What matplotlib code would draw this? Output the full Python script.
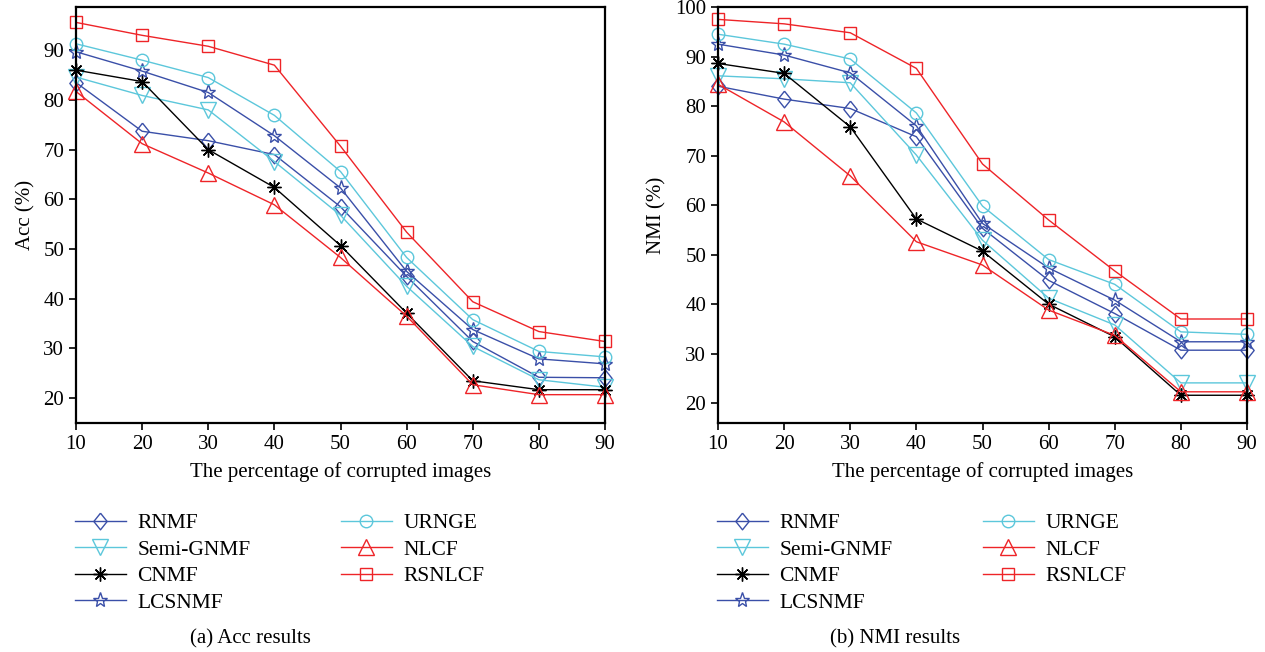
import numpy as np
import matplotlib.pyplot as plt
from matplotlib.lines import Line2D

plt.rcParams['font.family'] = ['Liberation Serif', 'DejaVu Serif']

x = [10, 20, 30, 40, 50, 60, 70, 80, 90]
methods = ['RNMF', 'Semi-GNMF', 'CNMF', 'LCSNMF', 'URNGE', 'NLCF', 'RSNLCF']

# Acc (%)
acc_rnmf = [83.5, 73.7, 71.8, 69.0, 58.5, 44.5, 31.4, 24.2, 24.1]
acc_semi = [84.6, 80.9, 78.0, 67.6, 56.8, 42.5, 30.4, 23.7, 22.2]
acc_cnmf = [86.0, 83.7, 70.0, 62.4, 50.7, 37.1, 23.5, 21.7, 21.7]
acc_lcsnmf = [89.7, 85.8, 81.5, 72.8, 62.3, 45.5, 33.8, 27.9, 26.9]
acc_urnge = [91.3, 88.0, 84.5, 76.9, 65.6, 48.3, 35.8, 29.4, 28.3]
acc_nlcf = [81.7, 71.2, 65.3, 58.9, 48.3, 36.5, 22.7, 20.7, 20.7]
acc_rsnlcf = [95.6, 93.0, 90.8, 87.0, 70.7, 53.4, 39.4, 33.4, 31.4]

# NMI (%)
nmi_rnmf = [84.0, 81.4, 79.5, 73.8, 55.3, 44.8, 38.1, 30.7, 30.7]
nmi_semi = [86.1, 85.5, 84.7, 70.1, 52.9, 41.2, 35.8, 24.1, 24.1]
nmi_cnmf = [88.6, 86.6, 75.8, 57.2, 50.7, 40.0, 33.4, 21.6, 21.6]
nmi_lcsnmf = [92.5, 90.3, 86.7, 76.0, 56.3, 47.3, 40.8, 32.4, 32.4]
nmi_urnge = [94.5, 92.5, 89.5, 78.6, 59.8, 49.0, 44.0, 34.4, 33.9]
nmi_nlcf = [84.4, 76.8, 65.9, 52.6, 47.9, 38.8, 33.7, 22.3, 22.3]
nmi_rsnlcf = [97.5, 96.6, 94.8, 87.6, 68.3, 57.0, 46.7, 37.0, 37.0]

blue = '#3A4FA8'
cyan = '#5CC7DB'
red = '#EE2428'
diamond = [(0, 1), (0.8, 0), (0, -1), (-0.8, 0), (0, 1)]
styles = [
    dict(color=blue, marker=diamond, ms=12),
    dict(color=cyan, marker='v', ms=11),
    dict(color='black', marker=(8, 2, 0), ms=10),
    dict(color=blue, marker='*', ms=11),
    dict(color=cyan, marker='o', ms=9),
    dict(color=red, marker='^', ms=11),
    dict(color=red, marker='s', ms=8.5),
]

fig = plt.figure(figsize=(12.65, 6.52), dpi=100)
W, H = 1265, 652
ax1 = fig.add_axes([76 / W, 1 - 423 / H, 529 / W, 416 / H])
ax2 = fig.add_axes([718 / W, 1 - 423 / H, 529 / W, 416 / H])

acc = [acc_rnmf, acc_semi, acc_cnmf, acc_lcsnmf, acc_urnge, acc_nlcf, acc_rsnlcf]
nmi = [nmi_rnmf, nmi_semi, nmi_cnmf, nmi_lcsnmf, nmi_urnge, nmi_nlcf, nmi_rsnlcf]

for ax, data, ylab, ylim, yt in [
        (ax1, acc, 'Acc (%)', (15, 98.7), np.arange(20, 91, 10)),
        (ax2, nmi, 'NMI (%)', (16, 100), np.arange(20, 101, 10))]:
    for vals, st in zip(data, styles):
        ax.plot(x, vals, color=st['color'], marker=st['marker'], ms=st['ms'],
                mfc='none', mec=st['color'], mew=1.0, lw=1.0, clip_on=False)
    ax.set_xlim(10, 90)
    ax.set_ylim(*ylim)
    ax.set_xticks(x)
    ax.set_yticks(yt)
    ax.tick_params(direction='out', length=5, width=1.2, labelsize=15,
                   top=False, right=False)
    for sp in ax.spines.values():
        sp.set_linewidth(1.6)
    ax.set_xlabel('The percentage of corrupted images', fontsize=15, labelpad=6)
    ax.set_ylabel(ylab, fontsize=15, labelpad=6)

handles = [Line2D([], [], color=st['color'], marker=st['marker'], ms=st['ms'],
                  mfc='none', mec=st['color'], mew=1.0, lw=1.0) for st in styles]

for xa in [75 / W, 717 / W]:
    fig.legend(handles, methods, loc='upper left', bbox_to_anchor=(xa, 1 - 513 / H),
               ncol=2, frameon=False, fontsize=15.5, handlelength=2.35,
               handletextpad=0.55, columnspacing=4.2, labelspacing=0.3,
               borderaxespad=0, borderpad=0)

fig.text(250 / W, 1 - 639 / H, '(a) Acc results', ha='center', va='center', fontsize=15)
fig.text(895 / W, 1 - 639 / H, '(b) NMI results', ha='center', va='center', fontsize=15)

fig.savefig('out.png', dpi=100)
